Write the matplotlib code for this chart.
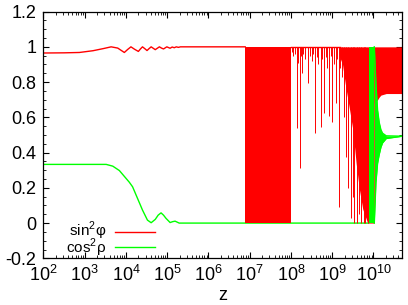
import numpy as np
import matplotlib
matplotlib.use('Agg')
import matplotlib.pyplot as plt
from matplotlib.ticker import LogLocator, MultipleLocator, FormatStrFormatter

plt.rcParams['font.family'] = ['Liberation Sans', 'DejaVu Sans']
plt.rcParams['font.size'] = 12

# --- sin^2 phi (red); x given as log10(z) ---
red_lz = [2.0, 2.5, 2.87, 3.2, 3.45, 3.64, 3.8, 3.96, 4.04, 4.12, 4.21, 4.30,
          4.35, 4.40, 4.46, 4.51, 4.56, 4.61, 4.66, 4.71, 4.76, 4.81, 4.86,
          4.91, 4.95, 4.99, 5.03, 5.07, 5.12, 5.17, 5.22, 5.27, 5.32, 5.45, 6.89]
red_val = [0.965, 0.966, 0.968, 0.978, 0.99, 1.0, 0.993, 0.968, 0.985, 1.0,
           0.986, 0.974, 0.988, 1.0, 0.989, 0.979, 0.99, 1.0, 0.992, 0.984,
           0.992, 1.0, 0.993, 0.988, 0.994, 1.0, 0.996, 0.992, 0.999, 0.995,
           1.0, 0.997, 1.0, 1.0, 1.0]

# fully oscillating block 0..1
red_block_lz = [6.89, 8.0]

# line at 1 with downward spikes
red_top_lz = [8.0, 9.2]
red_spike_lz = [8.03, 8.06, 8.10, 8.136, 8.17, 8.218, 8.24, 8.267, 8.30, 8.35,
                8.413, 8.46, 8.50, 8.54, 8.583, 8.62, 8.66, 8.72, 8.76, 8.80,
                8.85, 8.88, 8.922, 8.96, 9.0, 9.04, 9.083, 9.12, 9.155, 9.2,
                9.245, 9.29, 9.325, 9.38, 9.456, 9.50, 9.536, 9.61, 9.66, 9.71,
                9.76, 9.80]
red_spike_min = [0.97, 0.95, 0.96, 0.537, 0.906, 0.31, 0.95, 0.85, 0.96, 0.93,
                 0.794, 0.95, 0.92, 0.96, 0.51, 0.94, 0.90, 0.545, 0.93, 0.624,
                 0.94, 0.88, 0.607, 0.95, 0.575, 0.90, 0.68, 0.93, 0.092, 0.88,
                 0.83, 0.60, 0.376, 0.20, 0.03, 0.15, 0.0, 0.0, 0.05, 0.0,
                 0.0, 0.0]

# dense region before 1e10, lower envelope
red_dense_lz = [9.17, 9.25, 9.33, 9.41, 9.50, 9.58, 9.66, 9.74, 9.86, 10.02]
red_dense_low = [0.95, 0.90, 0.77, 0.66, 0.53, 0.34, 0.19, 0.08, 0.0, 0.0]

# after 1e10, band between lower envelope and 1
red_tail_lz = [10.02, 10.06, 10.10, 10.14, 10.18, 10.31, 10.7]
red_tail_low = [0.68, 0.69, 0.70, 0.715, 0.726, 0.735, 0.735]

# --- cos^2 rho (green) ---
grn_lz = [2.0, 3.0, 3.52, 3.68, 3.84, 4.0, 4.08, 4.16, 4.28, 4.40, 4.52,
          4.61, 4.71, 4.78, 4.85, 4.91, 4.97, 5.07, 5.13, 5.19, 5.29, 9.88]
grn_val = [0.333, 0.333, 0.333, 0.323, 0.298, 0.254, 0.232, 0.206, 0.14, 0.074,
           0.017, 0.002, 0.021, 0.045, 0.058, 0.045, 0.027, 0.003, 0.008, 0.011,
           0.0, 0.0]
grn_block_lz = [9.88, 10.02]
grn_env_lz = [10.02, 10.06, 10.10, 10.14, 10.18, 10.22, 10.31, 10.7]
grn_env_up = [1.0, 0.79, 0.64, 0.57, 0.53, 0.51, 0.495, 0.493]
grn_env_low = [0.0, 0.23, 0.34, 0.39, 0.43, 0.455, 0.48, 0.493]

red = '#ff0000'
green = '#00ff00'
z = lambda a: 10.0 ** np.asarray(a)

fig = plt.figure(figsize=(4.08, 3.05), dpi=100)
ax = fig.add_axes([0.1066, 0.153, 0.8794, 0.809])

# green flat part sits beneath the red
ax.plot(z(grn_lz), grn_val, color=green, lw=1.0, zorder=1)

ax.plot(z(red_lz), red_val, color=red, lw=1.0, zorder=2)
ax.fill_between(z(red_block_lz), 0, 1, color=red, lw=0, zorder=2)
ax.plot(z(red_top_lz), [1, 1], color=red, lw=1.0, zorder=2)
ax.vlines(z(red_spike_lz), red_spike_min, 1, color=red, lw=0.7, zorder=2)
ax.fill_between(z(red_dense_lz), red_dense_low, 1, color=red, lw=0, zorder=2)
ax.fill_between(z(red_tail_lz), red_tail_low, 1, color=red, lw=0, zorder=2)

ax.fill_between(z(grn_block_lz), 0, 1, color=green, lw=0, zorder=3)
ax.fill_between(z(grn_env_lz), grn_env_low, grn_env_up, color=green, lw=0, zorder=3)
ax.plot(z(grn_env_lz), grn_env_up, color=green, lw=1.0, zorder=3)
ax.plot(z(grn_env_lz), grn_env_low, color=green, lw=1.0, zorder=3)

ax.set_xscale('log')
ax.set_xlim(1e2, 5e10)
ax.set_ylim(-0.2, 1.2)
ax.xaxis.set_major_locator(LogLocator(base=10, numticks=20))
ax.xaxis.set_minor_locator(LogLocator(base=10, subs=np.arange(2, 10), numticks=100))
ax.yaxis.set_major_locator(MultipleLocator(0.2))
ax.yaxis.set_minor_locator(MultipleLocator(0.05))
ax.yaxis.set_major_formatter(FormatStrFormatter('%g'))
ax.tick_params(which='both', direction='in', top=True, right=True, color='black')
ax.tick_params(which='major', length=4.5, width=0.8, labelsize=13)
ax.tick_params(axis='y', which='major', pad=5)
ax.tick_params(axis='x', which='major', pad=5)
ax.tick_params(which='minor', length=2.5, width=0.6)
for s in ax.spines.values():
    s.set_linewidth(0.9)
ax.set_xlabel('z', fontsize=13, labelpad=1)

# legend, gnuplot style: label right-aligned, sample to its right
ax.text(0.174, 0.11, 'sin$^{\\mathdefault{2}}$φ', transform=ax.transAxes,
        ha='right', va='center', fontsize=11)
ax.plot([0.199, 0.31], [0.105, 0.105], transform=ax.transAxes, color=red, lw=1.0)
ax.text(0.174, 0.043, 'cos$^{\\mathdefault{2}}$ρ', transform=ax.transAxes,
        ha='right', va='center', fontsize=11)
ax.plot([0.199, 0.31], [0.047, 0.047], transform=ax.transAxes, color=green, lw=1.0)

fig.savefig('out.png', dpi=100)
